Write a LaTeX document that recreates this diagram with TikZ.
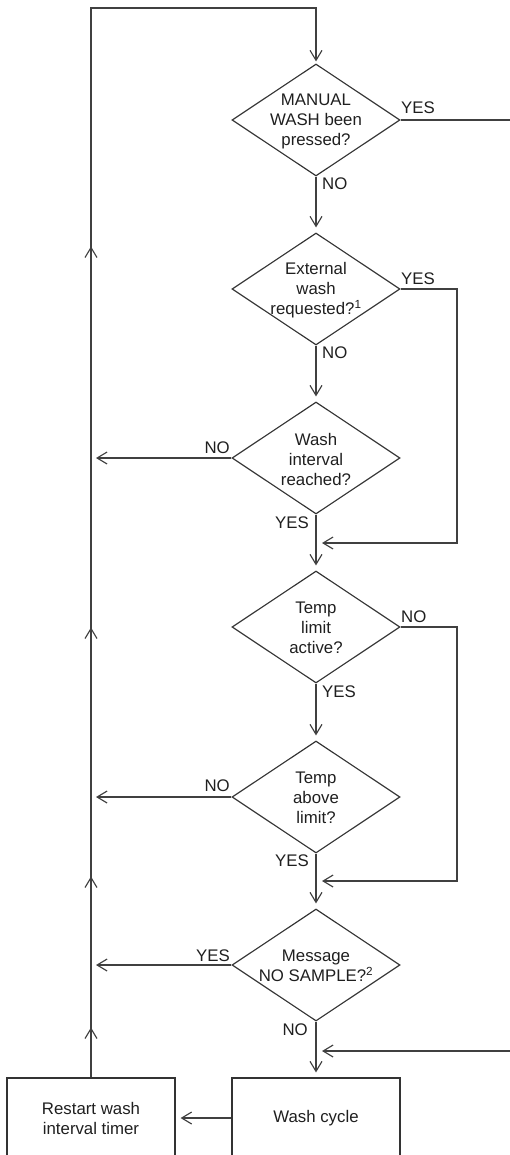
\documentclass[tikz,border=0pt]{standalone}
\usepackage{fontspec}
\setmainfont{Liberation Sans}
\usetikzlibrary{shapes.geometric,arrows.meta,calc,decorations.markings}
\begin{document}
\begin{tikzpicture}[x=1pt,y=-1pt,
  line/.style={draw=black!75, line width=1.15pt},
  tipstyle/.style={-{Straight Barb[length=10pt,width=12pt]}},
  arr/.style={line, tipstyle, shorten >=5pt},
  dia/.style={diamond, draw=black!80, line width=1.15pt, minimum width=168pt, minimum height=112pt, inner sep=0pt},
  txt/.style={font=\fontsize{16.8}{20}\selectfont, text=black!88, align=center, inner sep=0pt},
  lab/.style={font=\fontsize{16.8}{20}\selectfont, text=black!88, inner sep=0pt},
  procbox/.style={rectangle, draw=black!80, line width=1.15pt, minimum width=168pt, minimum height=80pt, inner sep=0pt, font=\fontsize{16.8}{20}\selectfont, text=black!88, align=center},
  upmarks/.style={postaction={decorate}, decoration={markings,
     mark=at position 50pt with {\arrow[line width=1.15pt]{Straight Barb[length=10pt,width=12pt]}},
     mark=at position 201pt with {\arrow[line width=1.15pt]{Straight Barb[length=10pt,width=12pt]}},
     mark=at position 450pt with {\arrow[line width=1.15pt]{Straight Barb[length=10pt,width=12pt]}},
     mark=at position 831pt with {\arrow[line width=1.15pt]{Straight Barb[length=10pt,width=12pt]}}}}
]
\useasboundingbox (0,0) rectangle (509,1155);

% decisions
\node[dia] (d1) at (316,120) {};
\node[txt] (d1t) at (316,121) {MANUAL\\WASH been\\pressed?};
\node[dia] (d2) at (316,289) {};
\node[txt] (d2t) at (316,290) {External\\wash\\requested?\textsuperscript{1}};
\node[dia] (d3) at (316,458) {};
\node[txt] (d3t) at (316,459) {Wash\\interval\\reached?};
\node[dia] (d4) at (316,627) {};
\node[txt] (d4t) at (316,628) {Temp\\limit\\active?};
\node[dia] (d5) at (316,797) {};
\node[txt] (d5t) at (316,798) {Temp\\above\\limit?};
\node[dia] (d6) at (316,965) {};
\node[txt] (d6t) at (316,966) {Message\\NO SAMPLE?\textsuperscript{2}};

% process boxes
\node[procbox] (wash) at (316,1118) {Wash cycle};
\node[procbox] (restart) at (91,1118) {Restart wash\\interval timer};

% helper coordinates
\coordinate (top) at (316,8);
\coordinate (r1) at (457,0);
\coordinate (r2) at (514,0);
\coordinate (m1) at (316,543);
\coordinate (m2) at (316,881);
\coordinate (m3) at (316,1051);

% main flow
\draw[arr] (d1.south) -- (d2.north);
\draw[arr] (d2.south) -- (d3.north);
\draw[arr] (d3.south) -- (d4.north);
\draw[arr] (d4.south) -- (d5.north);
\draw[arr] (d5.south) -- (d6.north);
\draw[arr] (d6.south) -- (wash.north);
\draw[arr] (wash.west) -- (restart.east);

% return loop
\draw[arr, shorten >=2pt, upmarks] (restart.north) |- (top) -- (d1.north);

% left exits
\draw[arr] (d3.west) -- (d3.west -| restart.north);
\draw[arr] (d5.west) -- (d5.west -| restart.north);
\draw[arr] (d6.west) -- (d6.west -| restart.north);

% right bypasses
\draw[arr, shorten >=6pt] (d2.east) -- (d2.east -| r1) |- (m1);
\draw[arr, shorten >=6pt] (d4.east) -- (d4.east -| r1) |- (m2);
\draw[arr, shorten >=6pt] (d1.east) -- (d1.east -| r2) |- (m3);

% labels
\node[lab, anchor=base west] (l1y) at (401,114) {YES};
\node[lab, anchor=base west] (l1n) at (322,190) {NO};
\node[lab, anchor=base west] (l2y) at (401,284) {YES};
\node[lab, anchor=base west] (l2n) at (322,358) {NO};
\node[lab, anchor=base east] (l3n) at (230,453) {NO};
\node[lab, anchor=base east] (l3y) at (309,528) {YES};
\node[lab, anchor=base west] (l4n) at (401,622) {NO};
\node[lab, anchor=base west] (l4y) at (322,697) {YES};
\node[lab, anchor=base east] (l5n) at (230,791) {NO};
\node[lab, anchor=base east] (l5y) at (309,866) {YES};
\node[lab, anchor=base east] (l6y) at (230,961) {YES};
\node[lab, anchor=base east] (l6n) at (308,1035) {NO};
\end{tikzpicture}
\end{document}
